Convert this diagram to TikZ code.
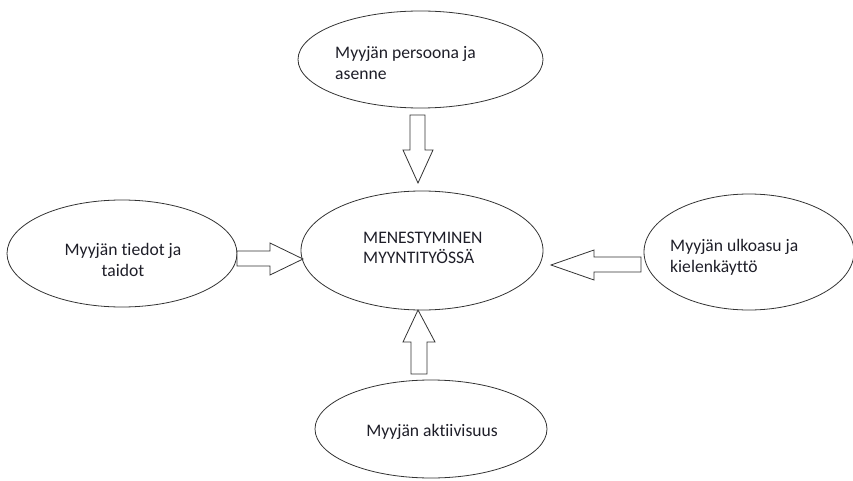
\documentclass[tikz,border=0pt]{standalone}
\usepackage{fontspec}
\setmainfont{Carlito}[Ligatures={NoCommon,NoRequired,NoContextual}]
\usetikzlibrary{shapes.geometric}
\definecolor{txt}{HTML}{1E1E28}
\definecolor{ln}{HTML}{333333}
\tikzset{
  oval/.style={draw=ln, line width=0.8pt, ellipse, inner sep=0pt},
  lbl/.style={text=txt, font=\fontsize{17.6}{20.5}\selectfont, inner sep=0pt},
  blockarrow/.style={draw=ln, line width=0.8pt, fill=white, line join=miter}
}
\begin{document}
\begin{tikzpicture}[x=1pt,y=-1pt]
\useasboundingbox (0,0) rectangle (853,481);
% ellipses
\node[oval, minimum width=245pt, minimum height=97pt] (top) at (420.5,59.5) {};
\node[oval, minimum width=242pt, minimum height=119pt] (mid) at (422,250.5) {};
\node[oval, minimum width=230pt, minimum height=107pt] (left) at (122,253.5) {};
\node[oval, minimum width=210pt, minimum height=116pt] (right) at (749,252) {};
\node[oval, minimum width=232pt, minimum height=98pt] (bot) at (431,429) {};
% texts
\node[lbl, anchor=west, align=left] (ttop) at (335,63) {Myyjän persoona ja\\asenne};
\node[lbl, align=left] (tmid) at (363,248) [anchor=west] {MENESTYMINEN\\MYYNTITYÖSSÄ};
\node[lbl, align=center] (tleft) at (123,260) {Myyjän tiedot ja\\taidot};
\node[lbl, anchor=west, align=left] (tright) at (670,257.5) {Myyjän ulkoasu ja\\kielenkäyttö};
\node[lbl] (tbot) at (432,432) {Myyjän aktiivisuus};
% block arrows
\draw[blockarrow] (410,115) -- (425,115) -- (425,150) -- (433,150) -- (418,183) -- (403,150) -- (410,150) -- cycle;
\draw[blockarrow] (237,251) -- (270,251) -- (270,243) -- (303,259) -- (270,275) -- (270,266) -- (237,266) -- cycle;
\draw[blockarrow] (641,257) -- (594,257) -- (594,250) -- (551,265) -- (594,280) -- (594,272) -- (641,272) -- cycle;
\draw[blockarrow] (411,374) -- (427,374) -- (427,342) -- (435,342) -- (418,310) -- (403,342) -- (411,342) -- cycle;
\end{tikzpicture}
\end{document}
